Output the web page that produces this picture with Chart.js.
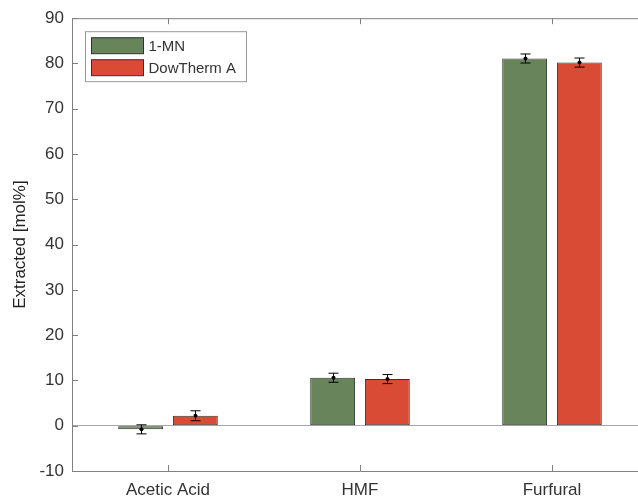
<!DOCTYPE html>
<html>
<head>
<meta charset="utf-8">
<script src="https://cdn.jsdelivr.net/npm/chart.js@4"></script>
<style>
    html, body { margin: 0; padding: 0; background: #fff; overflow: hidden; }
    #wrap { width: 652px; height: 497px; }
</style>
</head>
<body>
<div id="wrap"><canvas id="extractChart" width="652" height="497"></canvas></div>
<script>
// Data
const categories = ['Acetic Acid', 'HMF', 'Furfural'];
const seriesNames = ['1-MN', 'DowTherm A'];
const mnValues = [-0.8, 10.6, 81.1];
const mnErrors = [1.0, 1.0, 1.0];
const dowValues = [2.2, 10.3, 80.2];
const dowErrors = [1.1, 1.0, 1.0];
const yTicks = [-10, 0, 10, 20, 30, 40, 50, 60, 70, 80, 90];

const GREEN = '#67845a';
const RED = '#d94b35';
const AXIS = '#808080';
const TEXT = '#333333';
const FONT = '"Liberation Sans", Arial, sans-serif';

/**
 * Top box line, inward ticks, error bars and legend, drawn matlab style
 */
const extrasPlugin = {
    id: 'extras',
    afterDatasetsDraw(chart) {
        const ctx = chart.ctx;
        const area = chart.chartArea;
        const x = chart.scales.x;
        const y = chart.scales.y;

        ctx.save();

        // error bars
        ctx.strokeStyle = '#000';
        ctx.fillStyle = '#000';
        ctx.lineWidth = 1;
        chart.data.datasets.forEach((ds, di) => {
            const meta = chart.getDatasetMeta(di);
            meta.data.forEach((bar, i) => {
                const cx = Math.round(bar.x) + 0.5;
                const top = y.getPixelForValue(ds.data[i] + ds.errors[i]);
                const bot = y.getPixelForValue(ds.data[i] - ds.errors[i]);
                ctx.beginPath();
                ctx.moveTo(cx, top);
                ctx.lineTo(cx, bot);
                ctx.moveTo(cx - 5, top);
                ctx.lineTo(cx + 5, top);
                ctx.moveTo(cx - 5, bot);
                ctx.lineTo(cx + 5, bot);
                ctx.stroke();
                ctx.beginPath();
                ctx.arc(cx, y.getPixelForValue(ds.data[i]), 2, 0, Math.PI * 2);
                ctx.fill();
            });
        });

        // top box line (right side is off the page)
        ctx.strokeStyle = AXIS;
        ctx.beginPath();
        ctx.moveTo(area.left, area.top + 0.5);
        ctx.lineTo(area.right, area.top + 0.5);
        ctx.stroke();

        // inward ticks
        ctx.beginPath();
        yTicks.forEach(v => {
            const py = Math.round(y.getPixelForValue(v)) + 0.5;
            ctx.moveTo(area.left, py);
            ctx.lineTo(area.left + 6, py);
        });
        categories.forEach((c, i) => {
            const px = Math.round(x.getPixelForValue(i)) + 0.5;
            ctx.moveTo(px, area.bottom);
            ctx.lineTo(px, area.bottom - 6);
            ctx.moveTo(px, area.top);
            ctx.lineTo(px, area.top + 6);
        });
        ctx.stroke();

        // legend box inside the plot
        const lx = area.left + 13.5;
        const ly = area.top + 13.5;
        ctx.fillStyle = '#fff';
        ctx.strokeStyle = '#999';
        ctx.fillRect(lx, ly, 161, 50);
        ctx.strokeRect(lx, ly, 161, 50);
        ctx.font = '15px ' + FONT;
        ctx.textBaseline = 'middle';
        chart.data.datasets.forEach((ds, di) => {
            const sy = ly + 6 + di * 22;
            ctx.fillStyle = ds.backgroundColor;
            ctx.strokeStyle = '#333';
            ctx.fillRect(lx + 6, sy, 52, 16);
            ctx.strokeRect(lx + 6, sy, 52, 16);
            ctx.fillStyle = TEXT;
            ctx.fillText(seriesNames[di], lx + 63, sy + 9);
        });

        ctx.restore();
    }
};

const ctx = document.getElementById('extractChart').getContext('2d');

new Chart(ctx, {
    type: 'bar',
    data: {
        labels: categories,
        datasets: [{
            label: seriesNames[0],
            data: mnValues,
            errors: mnErrors,
            backgroundColor: GREEN,
            borderColor: '#333',
            borderWidth: 1,
            borderSkipped: false
        }, {
            label: seriesNames[1],
            data: dowValues,
            errors: dowErrors,
            backgroundColor: RED,
            borderColor: '#333',
            borderWidth: 1,
            borderSkipped: false
        }]
    },
    options: {
        responsive: false,
        animation: false,
        categoryPercentage: 0.57,
        barPercentage: 0.82,
        // canvas is wider than the page so the plot's right edge falls off it, as in the original
        layout: { padding: { top: 18, right: 4, left: 0, bottom: 0 } },
        plugins: {
            legend: { display: false },
            tooltip: { enabled: false }
        },
        scales: {
            x: {
                grid: { display: false, drawTicks: false },
                border: { color: AXIS, width: 1 },
                ticks: {
                    color: TEXT,
                    font: { family: FONT, size: 17 },
                    padding: 9,
                    maxRotation: 0
                },
                afterFit(scale) { scale.height = 26; }
            },
            y: {
                min: -10,
                max: 90,
                grid: {
                    drawTicks: false,
                    color: c => (c.tick && c.tick.value === 0) ? '#a8a8a8' : 'rgba(0,0,0,0)'
                },
                border: { color: AXIS, width: 1 },
                ticks: {
                    stepSize: 10,
                    color: TEXT,
                    font: { family: FONT, size: 17 },
                    padding: 8
                },
                title: {
                    display: true,
                    text: 'Extracted [mol%]',
                    color: '#222',
                    font: { family: FONT, size: 17 },
                    padding: { top: 10, bottom: 0 }
                },
                afterFit(scale) { scale.width = 72; }
            }
        }
    },
    plugins: [extrasPlugin]
});
</script>
</body>
</html>
